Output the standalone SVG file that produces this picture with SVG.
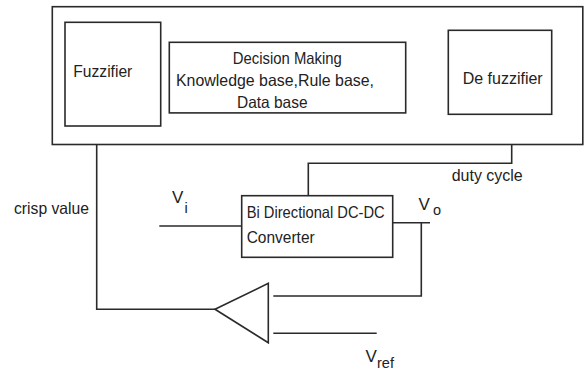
<svg xmlns="http://www.w3.org/2000/svg" width="584" height="370" viewBox="0 0 584 370">
  <style>
    .box { fill: none; stroke: #2a2a2a; stroke-width: 1.6; }
    .wire { fill: none; stroke: #2a2a2a; stroke-width: 1.6; }
    .t { font-family: "Liberation Sans", Arial, sans-serif; font-size: 16.5px; fill: #222; }
    .v { font-family: "Liberation Sans", Arial, sans-serif; font-size: 17px; fill: #222; }
    .s { font-family: "Liberation Sans", Arial, sans-serif; font-size: 14.5px; fill: #222; }
  </style>
  <rect width="584" height="370" fill="#ffffff"/>

  <g id="controller">
    <rect class="box" x="52.3" y="6.7" width="530.5" height="137.8"/>
  </g>

  <g id="fuzzifier">
    <rect class="box" x="65" y="22.3" width="95.7" height="103.7"/>
    <text class="t" x="73.3" y="77" textLength="59" lengthAdjust="spacingAndGlyphs">Fuzzifier</text>
  </g>

  <g id="decision">
    <rect class="box" x="169.3" y="42.3" width="236.4" height="70.6"/>
    <text class="t" x="232.8" y="63.5" textLength="109" lengthAdjust="spacingAndGlyphs">Decision Making</text>
    <text class="t" x="176" y="85.5" textLength="198" lengthAdjust="spacingAndGlyphs">Knowledge base,Rule base,</text>
    <text class="t" x="237" y="108" textLength="70.5" lengthAdjust="spacingAndGlyphs">Data base</text>
  </g>

  <g id="defuzzifier">
    <rect class="box" x="448.3" y="30.3" width="103.4" height="84"/>
    <text class="t" x="462.7" y="83.5" textLength="80" lengthAdjust="spacingAndGlyphs">De fuzzifier</text>
  </g>

  <g id="converter">
    <rect class="box" x="241.7" y="195.7" width="151" height="61.6"/>
    <text class="t" x="246.7" y="218" textLength="138" lengthAdjust="spacingAndGlyphs">Bi Directional DC-DC</text>
    <text class="t" x="246.7" y="243" textLength="68" lengthAdjust="spacingAndGlyphs">Converter</text>
  </g>

  <g id="comparator">
    <polygon class="box" points="215,309.3 268.3,283.3 268.3,342.7"/>
  </g>

  <g id="connectors">
    <polyline class="wire" points="511.7,144.5 511.7,163.3 308.3,163.3 308.3,195.7"/>
    <polyline class="wire" points="96.7,144.5 96.7,309.3 215,309.3"/>
    <line class="wire" x1="159.3" y1="226" x2="241.7" y2="226"/>
    <line class="wire" x1="392.7" y1="222.7" x2="430" y2="222.7"/>
    <polyline class="wire" points="421.3,222.7 421.3,296 273.3,296"/>
    <line class="wire" x1="273.3" y1="333.3" x2="376.7" y2="333.3"/>
  </g>

  <g id="labels">
    <text class="t" x="451.7" y="181" textLength="71" lengthAdjust="spacingAndGlyphs">duty cycle</text>
    <text class="t" x="14" y="214" textLength="75" lengthAdjust="spacingAndGlyphs">crisp value</text>
    <text class="v" x="172" y="203.3">V</text>
    <text class="s" x="184.5" y="212.5">i</text>
    <text class="v" x="418.5" y="210">V</text>
    <text class="s" x="433" y="215">o</text>
    <text class="v" x="365.5" y="361.5">V</text>
    <text class="s" x="377" y="367.5">ref</text>
  </g>
</svg>
